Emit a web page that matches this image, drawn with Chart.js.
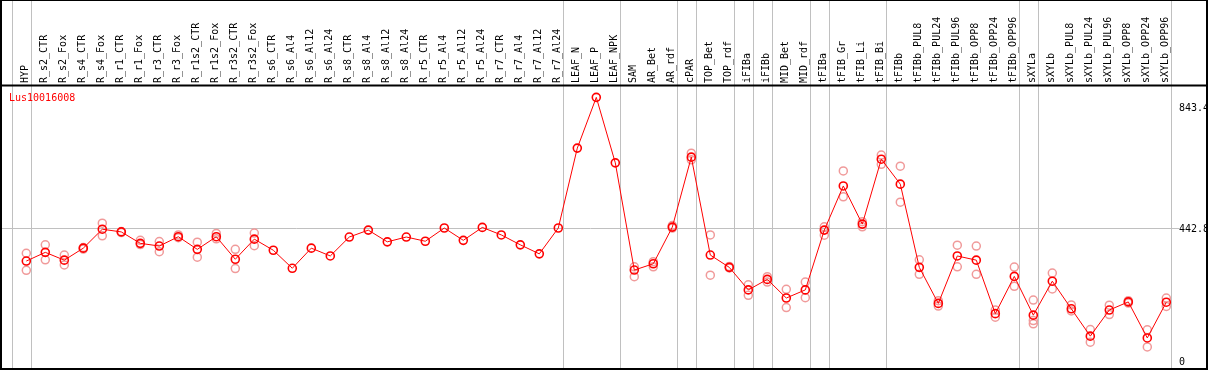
<!DOCTYPE html>
<html><head><meta charset="utf-8">
<script src="https://cdn.jsdelivr.net/npm/chart.js@4"></script>
<style>html,body{margin:0;padding:0;background:#fff}canvas{display:block}</style>
</head><body>
<canvas id="c" width="1209" height="370"></canvas>
<script>
const geneName = 'Lus10016008';
const categories = ['HYP','R_s2_CTR','R_s2_Fox','R_s4_CTR','R_s4_Fox','R_r1_CTR','R_r1_Fox','R_r3_CTR','R_r3_Fox','R_r1s2_CTR','R_r1s2_Fox','R_r3s2_CTR','R_r3s2_Fox','R_s6_CTR','R_s6_Al4','R_s6_Al12','R_s6_Al24','R_s8_CTR','R_s8_Al4','R_s8_Al12','R_s8_Al24','R_r5_CTR','R_r5_Al4','R_r5_Al12','R_r5_Al24','R_r7_CTR','R_r7_Al4','R_r7_Al12','R_r7_Al24','LEAF_N','LEAF_P','LEAF_NPK','SAM','AR_Bet','AR_rdf','cPAR','TOP_Bet','TOP_rdf','iFIBa','iFIBb','MID_Bet','MID_rdf','tFIBa','tFIB_Gr','tFIB_Li','tFIB_Bi','tFIBb','tFIBb_PUL8','tFIBb_PUL24','tFIBb_PUL96','tFIBb_OPP8','tFIBb_OPP24','tFIBb_OPP96','sXYLa','sXYLb','sXYLb_PUL8','sXYLb_PUL24','sXYLb_PUL96','sXYLb_OPP8','sXYLb_OPP24','sXYLb_OPP96'];
const meanValues = [336,365,339,379,442,433,395,386,417,375,417,342,409,372,312,379,353,416,439,400,416,402,446,405,448,423,390,360,446,712,881,663,306,327,449,682,356,315,240,275,213,240,439,586,459,675,592,315,195,353,339,161,285,156,269,177,86,173,200,80,199];
const rep1 = [362,390,356,381,462,434,405,401,423,399,428,375,429,null,null,null,null,null,null,null,null,null,null,null,null,null,null,null,null,null,null,null,317,334,454,695,423,318,257,284,242,266,450,636,467,689,652,340,204,389,386,173,316,206,296,190,108,189,204,107,213];
const rep2 = [305,340,323,376,420,431,391,367,414,349,410,311,387,null,null,null,null,null,null,null,null,null,null,null,null,null,null,null,null,null,null,null,284,317,446,673,289,313,222,266,181,214,422,550,450,658,532,292,186,317,292,149,252,138,243,170,66,158,196,50,185];
const rep3 = [null,null,null,null,null,null,null,null,null,null,null,null,null,null,null,null,null,null,null,null,null,null,null,null,null,null,null,null,null,null,null,null,null,null,null,null,null,null,null,null,null,null,null,null,null,null,null,null,null,null,null,null,null,127,null,null,null,null,null,null,null];
const yTickValues = [0, 442.8, 843.4];
const gridTickValue = 442.8;
const groupEnds = [-1, 0, 28, 31, 34, 35, 37, 38, 39, 41, 42, 45, 52, 53, 60];

const FONT = 'DejaVu Sans Mono';
const toPts = arr => arr.map((v, i) => (v === null ? null : {x: i, y: v})).filter(p => p);
const noPad = s => { s.paddingLeft = 0; s.paddingRight = 0; s.paddingTop = 0; s.paddingBottom = 0; };

const repStyle = {
  showLine: false, pointRadius: 4, pointHoverRadius: 4,
  pointBorderColor: '#f09a9a', pointBackgroundColor: 'rgba(0,0,0,0)', pointBorderWidth: 1.5,
  order: 2
};

const decor = {
  id: 'decor',
  beforeDraw(chart) {
    const {ctx, scales: {x}, chartArea} = chart;
    ctx.save();
    ctx.strokeStyle = '#c0c0c0';
    ctx.lineWidth = 1;
    groupEnds.forEach(g => {
      const px = Math.round(x.getPixelForValue(g + 0.23)) + 0.5;
      ctx.beginPath(); ctx.moveTo(px, 0); ctx.lineTo(px, chartArea.bottom); ctx.stroke();
    });
    ctx.restore();
  },
  afterDraw(chart) {
    const {ctx, chartArea} = chart;
    ctx.save();
    ctx.strokeStyle = '#000';
    ctx.lineWidth = 2;
    ctx.strokeRect(1, 0, chart.width - 3, chartArea.bottom + 1);
    ctx.beginPath(); ctx.moveTo(0, chartArea.top - 0.5); ctx.lineTo(chart.width - 1, chartArea.top - 0.5); ctx.stroke();
    ctx.fillStyle = '#ff0000';
    ctx.font = '10px "' + FONT + '"';
    ctx.textBaseline = 'alphabetic';
    ctx.fillText(geneName, 9, 101);
    ctx.restore();
  }
};

new Chart(document.getElementById('c'), {
  type: 'line',
  data: {
    datasets: [
      { label: geneName, data: toPts(meanValues), borderColor: '#ff0000', borderWidth: 1, tension: 0,
        pointRadius: 4, pointHoverRadius: 4, pointBorderColor: '#ff0000', pointBackgroundColor: 'rgba(0,0,0,0)',
        pointBorderWidth: 1.6, order: 1 },
      Object.assign({ label: 'rep1', data: toPts(rep1) }, repStyle),
      Object.assign({ label: 'rep2', data: toPts(rep2) }, repStyle),
      Object.assign({ label: 'rep3', data: toPts(rep3) }, repStyle)
    ]
  },
  options: {
    responsive: false, animation: false, devicePixelRatio: 1, events: [],
    layout: { autoPadding: false, padding: { left: 2, bottom: 2, top: 0, right: 2 } },
    plugins: { legend: { display: false }, tooltip: { enabled: false }, title: { display: false } },
    scales: {
      x: {
        type: 'linear', position: 'top',
        min: -1.279, max: -1.279 + 1177 / 19,
        afterBuildTicks: s => { s.ticks = categories.map((c, i) => ({value: i})); },
        afterFit: s => { s.height = 86; noPad(s); },
        grid: { display: false, drawTicks: false },
        border: { display: false },
        ticks: {
          autoSkip: false, minRotation: 90, maxRotation: 90, padding: 3, labelOffset: 11,
          color: '#000', font: { family: FONT, size: 10 },
          callback: v => categories[v]
        }
      },
      y: {
        type: 'linear', position: 'right',
        min: -20, max: (362 - 86) / 0.3004,
        afterBuildTicks: s => { s.ticks = yTickValues.map(v => ({value: v})); },
        afterFit: s => { s.width = 28; noPad(s); },
        grid: { drawTicks: false, lineWidth: 1,
          color: c => (c.tick && c.tick.value === gridTickValue ? '#c0c0c0' : 'rgba(0,0,0,0)') },
        border: { display: false },
        ticks: {
          padding: 0, color: '#000', font: { family: FONT, size: 10 },
          callback: v => String(v)
        }
      }
    }
  },
  plugins: [decor]
});
</script>
</body></html>
